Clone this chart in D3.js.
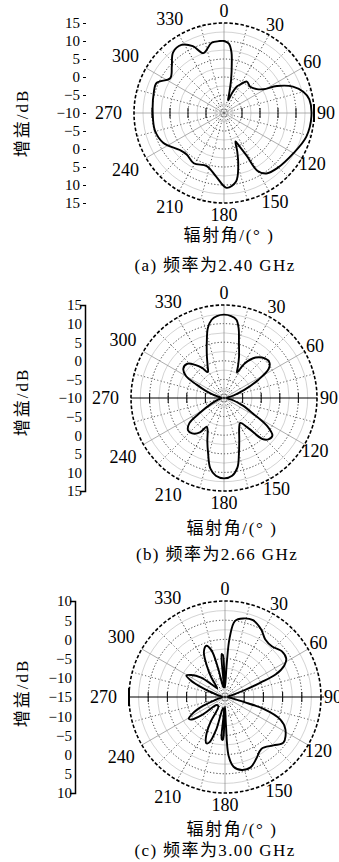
<!DOCTYPE html>
<html>
<head>
<meta charset="utf-8">
<script src="https://cdn.jsdelivr.net/npm/d3@7"></script>
<style>
body { margin: 0; background: #fff; }
svg { display: block; }
text { font-family: "Liberation Serif", "Noto Sans CJK SC", serif; fill: #000; }
</style>
</head>
<body>
<svg id="chart" width="339" height="862"></svg>
<script>
// angle labels round each polar plot
const angleTicks = [0, 30, 60, 90, 120, 150, 180, 210, 240, 270, 300, 330];

// left gain axis labels (top to bottom)
const gainLabelsAB = ["15", "10", "5", "0", "\u22125", "\u221210", "\u22125", "0", "5", "10", "15"];
const gainLabelsC = ["10", "5", "0", "\u22125", "\u221210", "\u221215", "\u221210", "\u22125", "0", "5", "10"];

// (a) 2.40 GHz, angle in degrees, gain in dB
const anglesA = [0, 4, 7, 9, 12, 15, 18, 22, 26, 30, 36, 45, 54, 59, 63, 69, 75, 81, 92, 106,
  120, 136, 145, 150, 152, 155, 158, 161, 165, 170, 178, 187, 198, 211, 222, 230, 244, 256, 270,
  286, 294, 303, 312, 320, 328, 335, 341, 350, 356];
const gainA = [10.0, 9.3, 7.0, 3.8, -0.5, -4.5, -6.3, -4.0, -1.8, -0.8, 0.8, 0.3, 1.3, 2.8, 6.5, 10.5, 12.8, 14.0, 14.3, 13.8,
  12.3, 11.3, 10.5, 8.5, 3.5, 0.3, -1.5, 1.3, 5.3, 9.3, 10.8, 7.8, 5.5, 6.3, 5.5, 6.0, 8.8, 9.8, 9.8,
  10.3, 10.5, 7.8, 9.5, 12.0, 12.3, 10.5, 7.6, 9.8, 10.0];

// (b) 2.66 GHz
const anglesB = [0, 5, 9, 12, 15, 20, 24, 27, 31, 38, 46, 52, 57, 62, 68, 76, 90, 104, 112, 118,
  123, 128, 133, 137, 141, 147, 153, 160, 165, 169, 174, 180, 186, 191, 196, 201, 207, 211, 215,
  222, 228, 234, 238, 246, 256, 270, 284, 291, 296, 300, 306, 313, 319, 324, 328, 333, 338, 343,
  347, 351, 355];
const gainB = [12.4, 12.1, 11.3, 9.0, 5.5, 1.8, -0.8, -2.3, 0.8, 3.8, 5.3, 5.5, 4.3, 0.5, -4.0, -7.5, -9.3, -7.5, -4.5, -1.3,
  3.8, 6.5, 6.3, 5.0, 0.5, -2.0, -1.0, 2.0, 5.5, 9.0, 11.0, 11.6, 11.0, 9.3, 5.5, 2.5, -0.3, -1.0, 1.3,
  2.8, 3.0, 1.5, -2.0, -6.3, -8.5, -9.3, -8.0, -5.0, -1.8, 1.8, 3.5, 3.5, 1.8, 0.0, -1.8, -0.3, 2.3, 5.8,
  9.3, 11.3, 12.1];

// (c) 3.00 GHz
const anglesC = [0, 3, 4.5, 7.5, 13, 20, 28, 35, 43, 51, 58, 62, 66, 68, 71, 76, 90, 100, 105, 107,
  112, 118, 128, 135, 145, 153, 160, 167, 173, 176.5, 178, 180, 182, 183, 184.5, 186, 190, 195, 199,
  202, 206, 210, 215, 226, 232, 236, 239, 243, 248, 255, 270, 285, 292, 296, 299, 303, 309, 314,
  318, 325, 330, 335, 340, 344, 346.5, 349, 353, 355.5, 357, 358.5];
const gainC = [-12.5, -6.3, 0.5, 5.0, 6.0, 6.3, 5.0, 3.3, 3.0, 4.0, 3.8, 2.5, -0.5, -5.0, -10.0, -13.3, -14.3, -13.0, -10.0, -4.5,
  0.5, 2.8, 4.3, 2.8, 1.5, 3.0, 4.5, 4.5, 3.3, 0.3, -7.5, -12.5, -5.0, -3.8, -4.0, -12.0, -12.0, -6.3, -2.5,
  -2.0, -3.8, -7.5, -12.0, -12.0, -7.5, -4.5, -4.0, -5.5, -8.8, -13.0, -14.3, -13.0, -8.8, -5.0, -3.5, -4.5, -7.0, -10.5,
  -12.0, -8.8, -5.5, -2.0, -0.8, -2.5, -7.5, -12.0, -12.5, -3.8, -4.0, -12.0];

const panels = [
  { cx: 224, cy: 113, R: 90, min: -10, max: 15, angles: anglesA, gains: gainA, labels: gainLabelsAB,
    axisX: 86, axisLine: false, hColor: "#9a9a9a", yTitle: [22, 123], xTitleY: 235, xTitleX: 229,
    captionY: 265, captionX: 215, caption: "(a) 频率为2.40 GHz", boldTick: 90 },
  { cx: 224, cy: 398, R: 93, min: -10, max: 15, angles: anglesB, gains: gainB, labels: gainLabelsAB,
    axisX: 85, axisLine: true, hColor: "#000", yTitle: [22, 402], xTitleY: 528, xTitleX: 232,
    captionY: 554, captionX: 217, caption: "(b) 频率为2.66 GHz", boldTick: null },
  { cx: 225, cy: 697, R: 96, min: -15, max: 10, angles: anglesC, gains: gainC, labels: gainLabelsC,
    axisX: 75, axisLine: true, hColor: "#000", yTitle: [22, 693], xTitleY: 829, xTitleX: 232,
    captionY: 850, captionX: 215, caption: "(c) 频率为3.00 GHz", boldTick: 270 }
];

const svg = d3.select("#chart");
const rad = a => a * Math.PI / 180;

panels.forEach(p => {
  const r = d3.scaleLinear().domain([p.min, p.max]).range([0, p.R]);
  const g = svg.append("g").attr("transform", `translate(${p.cx},${p.cy})`);

  // rings every 2.5 dB
  const ringVals = d3.range(p.min + 2.5, p.max, 2.5);
  g.selectAll(".ring").data(ringVals).enter().append("circle")
    .attr("r", d => r(d))
    .attr("fill", "none")
    .attr("stroke", (d, i) => i % 2 ? "#222" : "#b5b5b5")
    .attr("stroke-width", (d, i) => i % 2 ? 0.9 : 0.6)
    .attr("stroke-dasharray", (d, i) => i % 2 ? "1.2,2" : null);

  // spokes
  const spokes = d3.range(0, 360, 15).filter(a => a % 180 !== 90);
  g.selectAll(".spoke").data(spokes).enter().append("line")
    .attr("x1", 0).attr("y1", 0)
    .attr("x2", d => p.R * Math.sin(rad(d)))
    .attr("y2", d => -p.R * Math.cos(rad(d)))
    .attr("stroke", d => d % 60 === 0 ? "#8a8a8a" : (d % 30 === 0 ? "#222" : "#555"))
    .attr("stroke-width", d => d % 60 === 0 ? 0.7 : 0.9)
    .attr("stroke-dasharray", d => d % 60 === 0 ? null : "1.2,2.2");

  // horizontal 270-90 axis with ticks at the 5 dB rings
  g.append("line").attr("x1", -p.R).attr("x2", p.R + (p.boldTick === 270 ? 3 : 0))
    .attr("y1", 0).attr("y2", 0)
    .attr("stroke", p.hColor).attr("stroke-width", p.hColor === "#000" ? 1.1 : 0.8);
  const tickVals = d3.range(p.min + 5, p.max, 5);
  [-1, 1].forEach(s => {
    g.selectAll(null).data(tickVals).enter().append("line")
      .attr("x1", d => s * r(d)).attr("x2", d => s * r(d))
      .attr("y1", -5).attr("y2", 5)
      .attr("stroke", "#111").attr("stroke-width", 1.1);
  });

  // outer dashed circle
  g.append("circle").attr("r", p.R).attr("fill", "none")
    .attr("stroke", "#000").attr("stroke-width", 1.6).attr("stroke-dasharray", "3.5,2");

  if (p.boldTick !== null) {
    const bx = p.boldTick === 90 ? p.R : -p.R;
    g.append("line").attr("x1", bx).attr("x2", bx).attr("y1", -9).attr("y2", 9)
      .attr("stroke", "#000").attr("stroke-width", 2);
  }

  // pattern curve
  const pts = p.angles.map((a, i) => [rad(a), r(p.gains[i])]);
  const line = d3.lineRadial().angle(d => d[0]).radius(d => d[1])
    .curve(d3.curveCatmullRomClosed.alpha(0.5));
  g.append("path").attr("d", line(pts))
    .attr("fill", "none").attr("stroke", "#000").attr("stroke-width", 1.9)
    .attr("stroke-linejoin", "round");

  // angle labels
  g.selectAll(".alab").data(angleTicks).enter().append("text")
    .each(function (d) {
      const s = Math.sin(rad(d)), c = Math.cos(rad(d));
      const w = String(d).length * 9;
      const dist = p.R + 12 + (s < -0.01 ? (w / 2) * (-s) : 0);
      d3.select(this)
        .attr("x", dist * s).attr("y", -dist * c)
        .attr("text-anchor", "middle").attr("dy", "0.35em");
    })
    .style("font-size", "18px")
    .text(d => d);

  // left gain axis
  const yScale = d3.scalePoint().domain(d3.range(p.labels.length))
    .range([p.cy - p.R, p.cy + p.R]);
  const axis = d3.axisLeft(yScale).tickFormat(i => p.labels[i]);
  if (p.axisLine) axis.tickSizeInner(0).tickSizeOuter(5).tickPadding(3);
  else axis.tickSizeInner(3).tickSizeOuter(0).tickPadding(3);
  const ax = svg.append("g").attr("transform", `translate(${p.axisX},0)`).call(axis);
  ax.selectAll("text").style("font-size", "15px").attr("fill", "#000");
  ax.selectAll("line").attr("stroke", "#000");
  ax.select(".domain").attr("stroke", p.axisLine ? "#000" : "none").attr("stroke-width", 1.5);

  // titles
  svg.append("text")
    .attr("transform", `translate(${p.yTitle[0]},${p.yTitle[1]}) rotate(-90)`)
    .attr("text-anchor", "middle").attr("dy", "0.35em")
    .style("font-size", "17px").style("letter-spacing", "2px").text("增益/dB");
  svg.append("text").attr("x", p.xTitleX).attr("y", p.xTitleY)
    .attr("text-anchor", "middle").attr("dy", "0.35em")
    .style("font-size", "17px").style("letter-spacing", "1.6px").text("辐射角/(° )");
  svg.append("text").attr("x", p.captionX).attr("y", p.captionY)
    .attr("text-anchor", "middle").attr("dy", "0.35em")
    .style("font-size", "17px").style("letter-spacing", "1.4px").text(p.caption);
});
</script>
</body>
</html>
